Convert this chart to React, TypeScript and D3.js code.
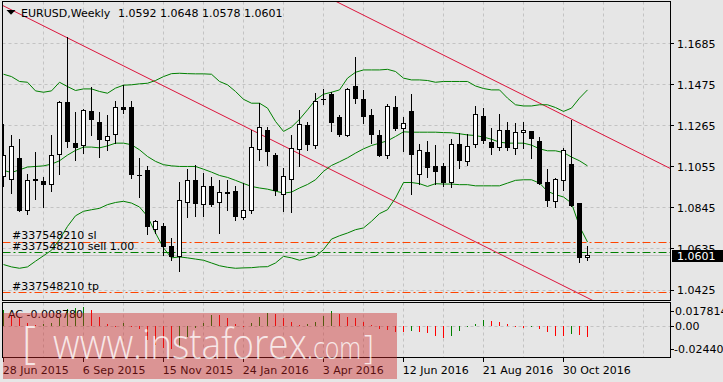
import React from 'react';
import * as d3 from 'd3';

// ---------- data ----------
const symbolTitle = 'EURUSD,Weekly';
const headerValues = ['1.0592', '1.0648', '1.0578', '1.0601'];
const dateLabels = ['28 Jun 2015', '6 Sep 2015', '15 Nov 2015', '24 Jan 2016', '3 Apr 2016', '12 Jun 2016', '21 Aug 2016', '30 Oct 2016'];
const priceTicks = [1.1685, 1.1475, 1.1265, 1.1055, 1.0845, 1.0635, 1.0425];

const opens = [
  1.1005, 1.0991, 1.1095, 1.0833, 1.0986, 1.0978, 1.0966, 1.1119, 1.1381, 1.1175,
  1.1165, 1.1335, 1.1282, 1.1187, 1.1221, 1.1359, 1.1355, 1.1009, 1.1037, 1.0733,
  1.0747, 1.0645, 1.0597, 1.0872, 1.0986, 1.0861, 1.0956, 1.0872, 1.0920, 1.0930,
  1.0796, 1.0833, 1.1144, 1.1238, 1.1114, 1.0915, 1.0991, 1.1144, 1.1267, 1.1161,
  1.1399, 1.1421, 1.1304, 1.1216, 1.1462, 1.1396, 1.1314, 1.1212, 1.1112, 1.1355,
  1.1250, 1.1335, 1.1017, 1.1129, 1.1056, 1.1054, 1.0973, 1.1170, 1.1083, 1.1170,
  1.1311, 1.1177, 1.1153, 1.1238, 1.1148, 1.1228, 1.1233, 1.1182, 1.0973, 1.0879,
  1.0986, 1.1064, 1.0866, 1.0592,
];
const highs = [
  1.1272, 1.1218, 1.1197, 1.1019, 1.1131, 1.1002, 1.1218, 1.1391, 1.1716, 1.1333,
  1.1350, 1.1464, 1.1333, 1.1320, 1.1388, 1.1473, 1.1388, 1.1099, 1.1058, 1.0784,
  1.0767, 1.0692, 1.0979, 1.1042, 1.1063, 1.1022, 1.1002, 1.0988, 1.0988, 1.0954,
  1.0971, 1.1240, 1.1379, 1.1260, 1.1124, 1.1048, 1.1216, 1.1345, 1.1284, 1.1430,
  1.1450, 1.1438, 1.1320, 1.1456, 1.1617, 1.1447, 1.1350, 1.1240, 1.1376, 1.1416,
  1.1308, 1.1427, 1.1170, 1.1184, 1.1167, 1.1073, 1.1197, 1.1229, 1.1221, 1.1365,
  1.1352, 1.1253, 1.1325, 1.1284, 1.1279, 1.1284, 1.1238, 1.1207, 1.1044, 1.0995,
  1.1150, 1.1294, 1.0866, 1.0648,
];
const lows = [
  1.0957, 1.0920, 1.0827, 1.0813, 1.0891, 1.0849, 1.0929, 1.1017, 1.1153, 1.1090,
  1.1124, 1.1218, 1.1104, 1.1141, 1.1175, 1.1328, 1.0997, 1.0898, 1.0713, 1.0716,
  1.0606, 1.0580, 1.0520, 1.0798, 1.0804, 1.0801, 1.0852, 1.0716, 1.0835, 1.0784,
  1.0789, 1.0818, 1.1087, 1.1065, 1.0912, 1.0827, 1.0821, 1.1056, 1.1141, 1.1150,
  1.1376, 1.1235, 1.1212, 1.1212, 1.1382, 1.1280, 1.1175, 1.1110, 1.1097, 1.1240,
  1.1133, 1.0915, 1.0968, 1.1002, 1.0968, 1.0954, 1.0951, 1.1048, 1.1065, 1.1153,
  1.1175, 1.1120, 1.1141, 1.1138, 1.1120, 1.1148, 1.1100, 1.0966, 1.0855, 1.0850,
  1.0937, 1.0854, 1.0570, 1.0578,
];
const closes = [
  1.1114, 1.1158, 1.0833, 1.0986, 1.0987, 1.0966, 1.1114, 1.1384, 1.1184, 1.1155,
  1.1340, 1.1297, 1.1195, 1.1211, 1.1359, 1.1345, 1.1017, 1.1008, 1.0747, 1.0776,
  1.0648, 1.0597, 1.0882, 1.0986, 1.0869, 1.0956, 1.0864, 1.0923, 1.0921, 1.0801,
  1.0833, 1.1155, 1.1257, 1.1133, 1.0935, 1.1007, 1.1148, 1.1272, 1.1167, 1.1389,
  1.1400, 1.1280, 1.1218, 1.1450, 1.1403, 1.1313, 1.1221, 1.1112, 1.1364, 1.1250,
  1.1277, 1.1117, 1.1139, 1.1053, 1.1031, 1.0973, 1.1170, 1.1085, 1.1160, 1.1323,
  1.1189, 1.1153, 1.1238, 1.1151, 1.1228, 1.1241, 1.1199, 1.0969, 1.0882, 1.0988,
  1.1139, 1.0857, 1.0592, 1.0601,
];

const bbUpper = [
  1.1527, 1.1515, 1.1490, 1.1486, 1.1442, 1.1435, 1.1442, 1.1486, 1.1464, 1.1444,
  1.1452, 1.1452, 1.1439, 1.1430, 1.1456, 1.1471, 1.1473, 1.1478, 1.1481, 1.1495,
  1.1515, 1.1530, 1.1532, 1.1530, 1.1529, 1.1529, 1.1527, 1.1490, 1.1473, 1.1439,
  1.1399, 1.1379, 1.1379, 1.1354, 1.1286, 1.1235, 1.1257, 1.1297, 1.1345, 1.1396,
  1.1425, 1.1435, 1.1447, 1.1507, 1.1537, 1.1549, 1.1549, 1.1549, 1.1552, 1.1541,
  1.1507, 1.1498, 1.1498, 1.1495, 1.1486, 1.1490, 1.1490, 1.1490, 1.1490, 1.1467,
  1.1454, 1.1447, 1.1447, 1.1405, 1.1371, 1.1365, 1.1365, 1.1371, 1.1371, 1.1357,
  1.1337, 1.1354, 1.1405, 1.1447,
];
const bbMiddle = [
  1.1036, 1.1025, 1.1039, 1.1053, 1.1056, 1.1059, 1.1068, 1.1085, 1.1114, 1.1138,
  1.1155, 1.1155, 1.1151, 1.1161, 1.1175, 1.1175, 1.1167, 1.1141, 1.1107, 1.1082,
  1.1065, 1.1059, 1.1056, 1.1056, 1.1056, 1.1042, 1.1027, 1.1010, 1.1000, 1.0985,
  1.0969, 1.0954, 1.0946, 1.0940, 1.0930, 1.0920, 1.0925, 1.0946, 1.0964, 1.0988,
  1.1031, 1.1061, 1.1080, 1.1100, 1.1124, 1.1146, 1.1163, 1.1175, 1.1187, 1.1209,
  1.1233, 1.1231, 1.1231, 1.1231, 1.1231, 1.1229, 1.1228, 1.1223, 1.1217, 1.1214,
  1.1206, 1.1195, 1.1180, 1.1175, 1.1175, 1.1175, 1.1165, 1.1146, 1.1136, 1.1136,
  1.1127, 1.1104, 1.1085, 1.1059,
];
const bbLower = [
  1.0555, 1.0543, 1.0536, 1.0543, 1.0572, 1.0600, 1.0628, 1.0682, 1.0750, 1.0804,
  1.0827, 1.0835, 1.0842, 1.0861, 1.0872, 1.0878, 1.0869, 1.0849, 1.0801, 1.0716,
  1.0640, 1.0589, 1.0594, 1.0589, 1.0583, 1.0577, 1.0563, 1.0549, 1.0541, 1.0536,
  1.0538, 1.0539, 1.0543, 1.0544, 1.0563, 1.0597, 1.0589, 1.0577, 1.0587, 1.0597,
  1.0631, 1.0685, 1.0702, 1.0716, 1.0733, 1.0742, 1.0776, 1.0815, 1.0835, 1.0895,
  1.0974, 1.0974, 1.0968, 1.0954, 1.0968, 1.0966, 1.0966, 1.0963, 1.0963, 1.0957,
  1.0957, 1.0957, 1.0957, 1.0971, 1.0985, 1.0988, 1.0988, 1.0971, 1.0929, 1.0912,
  1.0900, 1.0869, 1.0750, 1.0670,
];

const acValues = [
  0.0120, 0.0075, 0.0056, 0.0020, 0.0008, 0.0012, 0.0023, 0.0056, 0.0130, 0.0138,
  0.0146, 0.0120, 0.0069, 0.0010, -0.0005, 0.0017, -0.0005, -0.0028, -0.0110, -0.0148,
  -0.0170, -0.0178, -0.0160, -0.0085, -0.0020, 0.0018, 0.0085, 0.0080, 0.0056, 0.0010,
  -0.0005, 0.0017, 0.0069, 0.0095, 0.0090, 0.0061, 0.0031, 0.0005, 0.0010, 0.0031,
  0.0077, 0.0115, 0.0087, 0.0069, 0.0056, 0.0031, 0.0008, -0.0026, -0.0033, -0.0046,
  -0.0050, -0.0041, -0.0046, -0.0056, -0.0077, -0.0097, -0.0077, -0.0038, -0.0008, 0.0013,
  0.0043, 0.0036, 0.0026, 0.0013, -0.0008, -0.0018, -0.0013, -0.0026, -0.0051, -0.0077,
  -0.0079, -0.0061, -0.0072, -0.00878,
];
const acLabel = 'AC -0.008780';
const acAxisLabels = ['0.017814', '0.00', '-0.024400'];
const acDomain = [-0.0244, 0.017814];

const trendLineA = [{ i: 0, p: 1.1876 }, { i: 73, p: 1.0385 }];
const trendLineB = [{ i: 42, p: 1.1890 }, { i: 73, p: 1.1257 }];

const ticket = '#337548210';
const stopLoss = 1.0669;
const entryPrice = 1.0618;
const takeProfit = 1.0412;
const bidPrice = 1.0601;
const bidLabel = '1.0601';

// ---------- layout ----------
const W = 723, H = 382;
const L = 2.5, R = 670.5;
const mainTop = 1.5, mainBottom = 300.5;
const indTop = 302.5, indBottom = 357.5;
const FONT = '"DejaVu Sans", Verdana, sans-serif';
const BG = '#e6e6e6';
const GRID = '#c3c3c3';

const crisp = (v: number) => Math.floor(v) + 0.5;

export default function App() {
  const n = closes.length;
  const x = d3.scaleLinear().domain([0, n - 1]).range([3.5, 3.5 + 8 * (n - 1)]);
  const y = d3.scaleLinear().domain([1.0425, 1.1685]).range([290, 43.3]);
  const ac = d3.scaleLinear().domain(acDomain).range([indBottom, indTop]);

  const bandLine = d3.line<number>().x((_, i) => x(i)).y((d) => y(d));
  const trend = (pts: { i: number; p: number }[]) => {
    const [a, b] = pts;
    const slope = (b.p - a.p) / (b.i - a.i);
    const i0 = -5, i1 = 100;
    return d3.line<[number, number]>()([
      [x(i0), y(a.p + slope * (i0 - a.i))],
      [x(i1), y(a.p + slope * (i1 - a.i))],
    ]) as string;
  };

  const vGrid = d3.range(5, 85, 5).map((i) => x(i)).filter((v) => v < R - 2);
  const dateIdx = dateLabels.map((_, k) => k * 10);
  const zeroY = Math.round(ac(0));

  return (
    <svg width={W} height={H} style={{ position: 'absolute', left: 0, top: 0, display: 'block', background: BG }}
      fontFamily={FONT}>
      <defs>
        <clipPath id="mainClip">
          <rect x={L + 0.5} y={mainTop + 0.5} width={R - L - 1} height={mainBottom - mainTop - 1} />
        </clipPath>
        <clipPath id="indClip">
          <rect x={L + 0.5} y={indTop + 0.5} width={R - L - 1} height={indBottom - indTop - 1} />
        </clipPath>
      </defs>
      <rect x={0} y={0} width={W} height={H} fill={BG} />

      {/* grid */}
      <g stroke={GRID} strokeDasharray="3,3" strokeWidth={1}>
        {priceTicks.map((p) => (
          <line key={'h' + p} x1={L} x2={R} y1={crisp(y(p))} y2={crisp(y(p))} />
        ))}
        {vGrid.map((v) => (
          <line key={'v' + v} x1={v} x2={v} y1={mainTop} y2={mainBottom} />
        ))}
        {vGrid.map((v) => (
          <line key={'vi' + v} x1={v} x2={v} y1={indTop} y2={indBottom} />
        ))}
        <line x1={L} x2={R} y1={zeroY + 0.5} y2={zeroY + 0.5} />
      </g>

      <g clipPath="url(#mainClip)">
        {/* bid line */}
        <line x1={L} x2={R} y1={crisp(y(bidPrice))} y2={crisp(y(bidPrice))} stroke="#c4c4c4" strokeWidth={1} />
        {/* order lines */}
        <line x1={L} x2={R} y1={crisp(y(stopLoss))} y2={crisp(y(stopLoss))} stroke="#ff4500" strokeDasharray="8,3,2,3" />
        <line x1={L} x2={R} y1={crisp(y(entryPrice))} y2={crisp(y(entryPrice))} stroke="#008000" strokeDasharray="8,3,2,3" />
        <line x1={L} x2={R} y1={crisp(y(takeProfit))} y2={crisp(y(takeProfit))} stroke="#ff4500" strokeDasharray="8,3,2,3" />

        {/* trend lines */}
        <path d={trend(trendLineA)} stroke="#dc143c" fill="none" strokeWidth={1} />
        <path d={trend(trendLineB)} stroke="#dc143c" fill="none" strokeWidth={1} />

        {/* bollinger bands */}
        {[bbUpper, bbMiddle, bbLower].map((b, k) => (
          <path key={'bb' + k} d={bandLine(b) as string} stroke="#008000" fill="none" strokeWidth={1} />
        ))}

        {/* candles */}
        {closes.map((c, i) => {
          const o = opens[i];
          const cx = x(i);
          const yH = Math.round(y(highs[i]));
          const yL = Math.round(y(lows[i]));
          const top = crisp(Math.min(y(o), y(c)));
          const bot = crisp(Math.max(y(o), y(c)));
          const bull = c >= o;
          return (
            <g key={'c' + i}>
              <line x1={cx} x2={cx} y1={yH} y2={yL + 1} stroke="#000" strokeWidth={1} />
              {bot - top < 1 ? (
                <line x1={cx - 2.5} x2={cx + 2.5} y1={top} y2={top} stroke="#000" strokeWidth={1} />
              ) : (
                <rect x={cx - 2} y={top} width={4} height={bot - top} fill={bull ? '#ffffff' : '#000000'} stroke="#000" strokeWidth={1} />
              )}
            </g>
          );
        })}
      </g>

      {/* order labels */}
      <g fontSize={11} fill="#000">
        <text x={12} y={239}>{ticket + ' sl'}</text>
        <text x={12} y={249.5}>{ticket + ' sell 1.00'}</text>
        <text x={12} y={290}>{ticket + ' tp'}</text>
      </g>

      {/* header */}
      <polygon points="6.5,10 15.5,10 11,14.8" fill="#000" />
      <text x={21} y={16.5} fontSize={11} fill="#000">{symbolTitle}</text>
      <text x={118} y={16.5} fontSize={11} fill="#000" style={{ whiteSpace: 'pre' }}>{headerValues.join(' ')}</text>

      {/* AC histogram */}
      <g clipPath="url(#indClip)" shapeRendering="crispEdges">
        {acValues.map((v, i) => {
          const up = i === 0 || v > acValues[i - 1];
          const y1 = Math.round(ac(v));
          return (
            <rect key={'a' + i} x={Math.floor(x(i))} width={1}
              y={Math.min(zeroY, y1)} height={Math.max(1, Math.abs(y1 - zeroY))}
              fill={up ? '#008000' : '#ff0000'} />
          );
        })}
      </g>
      <text x={8} y={317.5} fontSize={11} fill="#000">{acLabel}</text>

      {/* panel borders */}
      <g stroke="#000" fill="none" strokeWidth={1}>
        <rect x={L} y={mainTop} width={R - L} height={mainBottom - mainTop} />
        <rect x={L} y={indTop} width={R - L} height={indBottom - indTop} />
      </g>

      {/* right price axis */}
      <g fontSize={11} fill="#000">
        {priceTicks.map((p) => (
          <g key={'pt' + p}>
            <line x1={R} x2={R + 3.5} y1={crisp(y(p))} y2={crisp(y(p))} stroke="#000" />
            <text x={677} y={y(p) + 4.3}>{p.toFixed(4)}</text>
          </g>
        ))}
        <rect x={672} y={Math.round(y(bidPrice)) - 6} width={51} height={12} fill="#000" />
        <text x={677} y={y(bidPrice) + 4.2} fill="#fff">{bidLabel}</text>
      </g>

      {/* AC axis */}
      <g fontSize={11} fill="#000">
        <line x1={R} x2={R + 3.5} y1={crisp(indTop + 8.5)} y2={crisp(indTop + 8.5)} stroke="#000" />
        <line x1={R} x2={R + 3.5} y1={zeroY + 0.5} y2={zeroY + 0.5} stroke="#000" />
        <line x1={R} x2={R + 3.5} y1={crisp(indBottom - 8.5)} y2={crisp(indBottom - 8.5)} stroke="#000" />
        <text x={675} y={indTop + 12.7}>{acAxisLabels[0]}</text>
        <text x={675} y={ac(0) + 4.3}>{acAxisLabels[1]}</text>
        <text x={674} y={indBottom - 4.5}>{acAxisLabels[2]}</text>
      </g>

      {/* time axis */}
      <g fontSize={11} fill="#000">
        {dateIdx.map((idx, k) => (
          <g key={'d' + k}>
            <line x1={x(idx)} x2={x(idx)} y1={indBottom} y2={indBottom + 4.5} stroke="#000" />
            <text x={x(idx) - 0.8} y={373.5}>{dateLabels[k]}</text>
          </g>
        ))}
      </g>

      {/* watermark */}
      <g>
        <rect x={3} y={313} width={394} height={66} fill="rgb(205,35,35)" fillOpacity={0.42} />
        <g fill="#ffffff" fillOpacity={0.78} fontFamily='"Open Sans", "DejaVu Sans", sans-serif' fontWeight={300}>
          <text x={22} y={358} fontSize={44} textLength={14} lengthAdjust="spacingAndGlyphs">[</text>
          <text x={53} y={358.5} fontSize={43} textLength={254} lengthAdjust="spacingAndGlyphs">www.instaforex</text>
          <text x={307} y={358.5} fontSize={32} textLength={54} lengthAdjust="spacingAndGlyphs">.com</text>
          <text x={364} y={359} fontSize={33} textLength={10} lengthAdjust="spacingAndGlyphs">]</text>
        </g>
      </g>
    </svg>
  );
}
